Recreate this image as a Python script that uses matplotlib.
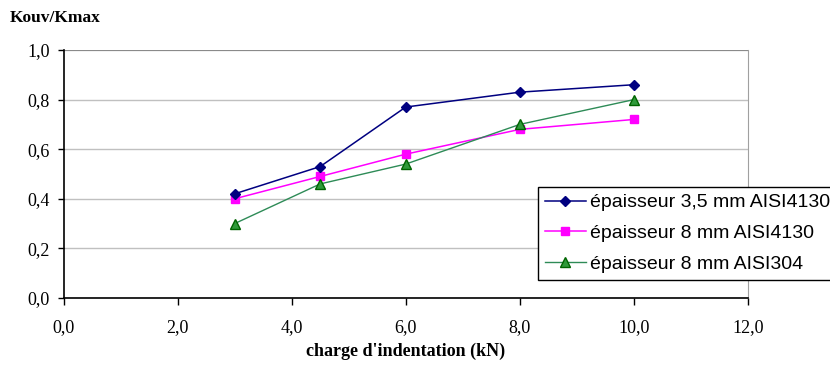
import matplotlib
matplotlib.use("Agg")
import matplotlib.pyplot as plt

charge = [3.0, 4.5, 6.0, 8.0, 10.0]
k_35_4130 = [0.42, 0.53, 0.77, 0.83, 0.86]
k_8_4130 = [0.40, 0.49, 0.58, 0.68, 0.72]
k_8_304 = [0.30, 0.46, 0.54, 0.70, 0.80]
labels = ["épaisseur 3,5 mm AISI4130", "épaisseur 8 mm AISI4130", "épaisseur 8 mm AISI304"]

xticks = [0, 2, 4, 6, 8, 10, 12]
yticks = [0.0, 0.2, 0.4, 0.6, 0.8, 1.0]

serif = "Liberation Serif"
sans = "Liberation Sans"

fig = plt.figure(figsize=(8.3, 3.85), dpi=100)
ax = fig.add_axes([63.5 / 830, 1 - 298 / 385, (748 - 63.5) / 830, 248 / 385])

ax.plot(charge, k_35_4130, color="#000080", lw=1.1, marker="D", ms=5.5,
        mfc="#000080", mec="#000080", label=labels[0], zorder=4)
ax.plot(charge, k_8_4130, color="#ff00ff", lw=1.1, marker="s", ms=6,
        mfc="#ff00ff", mec="#ff00ff", label=labels[1], zorder=3)
ax.plot(charge, k_8_304, color="#2e8b57", lw=1.0, marker="^", ms=7,
        mfc="#2f9a3a", mec="#006400", label=labels[2], zorder=3)

ax.set_xlim(0, 12)
ax.set_ylim(0, 1.0)
ax.set_xticks(xticks)
ax.set_yticks(yticks)
ax.set_xticklabels([f"{v:.1f}".replace(".", ",") for v in xticks], fontfamily=serif, fontsize=13)
ax.set_yticklabels([f"{v:.1f}".replace(".", ",") for v in yticks], fontfamily=serif, fontsize=13)
ax.tick_params(axis="x", direction="out", length=5, width=1, pad=10)
ax.tick_params(axis="y", direction="out", length=4, width=1, pad=6)

ax.yaxis.grid(True, color="#c0c0c0", lw=1)
ax.set_axisbelow(True)
ax.spines["top"].set_visible(False)
ax.spines["right"].set_color("#a0a0a0")
ax.spines["left"].set_linewidth(1.2)
ax.spines["bottom"].set_linewidth(1.2)
ax.axhline(1.0, color="#808080", lw=1.2, zorder=1)

fig.text(10 / 830, 1 - 18 / 385, "Kouv/Kmax", fontfamily=serif, fontweight="bold",
         fontsize=12.5, va="center", ha="left")
fig.text(406 / 830, 1 - 351 / 385, "charge d'indentation (kN)", fontfamily=serif,
         fontweight="bold", fontsize=13, va="center", ha="center")

leg = ax.legend(loc="upper left", bbox_to_anchor=(538 / 830, 1 - 187 / 385),
                bbox_transform=fig.transFigure, prop={"family": sans, "size": 14},
                frameon=True, fancybox=False, edgecolor="black", framealpha=1,
                borderpad=0.35, labelspacing=0.68, handlelength=2.1, handletextpad=0.2,
                borderaxespad=0)
leg.get_frame().set_linewidth(1.0)

fig.savefig("out.png", dpi=100)
